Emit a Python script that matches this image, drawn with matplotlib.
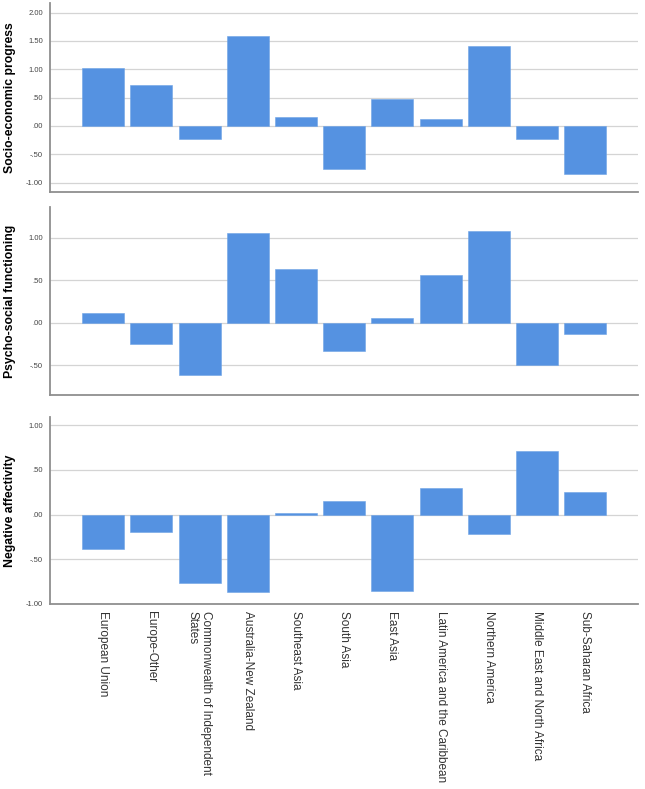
import matplotlib
matplotlib.use("Agg")
import matplotlib.pyplot as plt
import numpy as np

plt.rcParams['font.family'] = ['Liberation Sans', 'DejaVu Sans']

regions = ["European Union", "Europe-Other", "Commonwealth of Independent\nStates",
           "Australia-New Zealand", "Southeast Asia", "South Asia", "East Asia",
           "Latin America and the Caribbean", "Northern America",
           "Middle East and North Africa", "Sub-Saharan Africa"]

socio_economic = [1.02, 0.72, -0.23, 1.59, 0.15, -0.76, 0.47, 0.12, 1.42, -0.23, -0.84]
psycho_social = [0.11, -0.25, -0.62, 1.05, 0.63, -0.33, 0.05, 0.56, 1.08, -0.50, -0.13]
negative_aff = [-0.38, -0.19, -0.77, -0.87, 0.015, 0.155, -0.85, 0.30, -0.215, 0.71, 0.25]

panel_labels = ["Socio-economic progress", "Psycho-social functioning", "Negative affectivity"]
panel_values = [socio_economic, psycho_social, negative_aff]
panel_ticks = [[-1.0, -0.5, 0.0, 0.5, 1.0, 1.5, 2.0],
               [-0.5, 0.0, 0.5, 1.0],
               [-1.0, -0.5, 0.0, 0.5, 1.0]]
panel_ylims = [(-1.165, 2.17), (-0.85, 1.36), (-0.99, 1.09)]


def fmt(v):
    s = f"{v:.2f}"
    s = s.replace("0.", ".", 1) if abs(v) < 1 else s
    return s


W, H = 645, 789
fig = plt.figure(figsize=(W / 100, H / 100), dpi=100)
# pixel boxes (top, bottom)
boxes = [(3, 192), (207, 395), (417, 604)]
left_px, right_px = 50, 638
bar_color = '#5592E1'
x = np.arange(len(regions))

for i, ((t, b), vals, lab, ticks, yl) in enumerate(zip(boxes, panel_values, panel_labels, panel_ticks, panel_ylims)):
    ax = fig.add_axes([left_px / W, 1 - b / H, (right_px - left_px) / W, (b - t) / H])
    ax.bar(x, vals, width=0.87, color=bar_color, edgecolor='#6ea3e6', linewidth=0.4, zorder=3)
    ax.set_xlim(-1.1, len(regions) - 1 + 1.09)
    ax.set_ylim(*yl)
    ax.set_yticks(ticks)
    ax.set_yticklabels([fmt(v) for v in ticks], fontsize=5.5, color='#444444')
    ax.yaxis.grid(True, color='#d4d4d4', linewidth=0.9, zorder=0)
    ax.set_axisbelow(True)
    for s in ['top', 'right']:
        ax.spines[s].set_visible(False)
    for s in ['left', 'bottom']:
        ax.spines[s].set_color('#8f8f8f')
        ax.spines[s].set_linewidth(1.3)
    ax.tick_params(axis='y', length=0, pad=5)
    ax.tick_params(axis='x', length=0)
    if i < 2:
        ax.set_xticks([])
    else:
        ax.set_xticks(x)
        ax.set_xticklabels(regions, rotation=-90, fontsize=8.5, color='#333333',
                           va='top', ha='center', multialignment='left')
        ax.tick_params(axis='x', pad=5)
    fig.text(10 / W, 1 - ((t + b) / 2) / H, lab, rotation=90, ha='center', va='center',
             fontsize=8.8, fontweight='bold', color='black')

fig.savefig("out.png", dpi=100)
